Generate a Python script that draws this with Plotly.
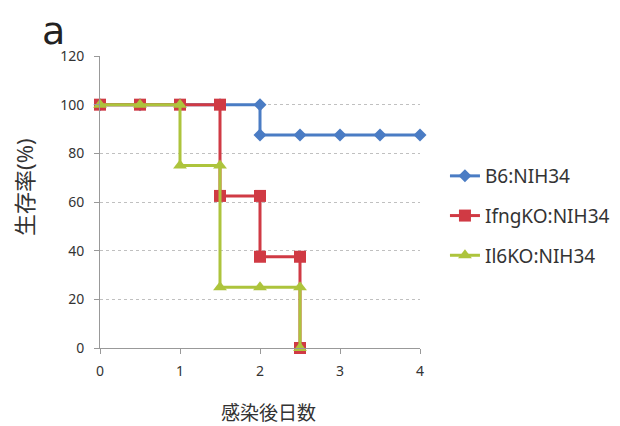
import plotly.graph_objects as go

names = ["B6:NIH34", "IfngKO:NIH34", "Il6KO:NIH34"]
b6_x = [0, 0.5, 1, 1.5, 2, 2, 2.5, 3, 3.5, 4]
b6_y = [100, 100, 100, 100, 100, 87.5, 87.5, 87.5, 87.5, 87.5]
ifng_x = [0, 0.5, 1, 1.5, 1.5, 2, 2, 2.5, 2.5]
ifng_y = [100, 100, 100, 100, 62.5, 62.5, 37.5, 37.5, 0]
il6_x = [0, 0.5, 1, 1, 1.5, 1.5, 2, 2.5, 2.5]
il6_y = [100, 100, 100, 75, 75, 25, 25, 25, 0]
y_ticks = [0, 20, 40, 60, 80, 100, 120]
x_ticks = [0, 1, 2, 3, 4]

colors = ["#4a7cc4", "#d03a44", "#adc43c"]
symbols = ["diamond", "square", "triangle-up"]
sizes = [10, 12, 12]
series = [(b6_x, b6_y), (ifng_x, ifng_y), (il6_x, il6_y)]

FONT = "Noto Sans, Noto Sans CJK JP, sans-serif"
fig = go.Figure()
for i, (xs, ys) in enumerate(series):
    fig.add_trace(go.Scatter(
        x=xs, y=ys, name=names[i], mode="lines+markers",
        line=dict(color=colors[i], width=3),
        marker=dict(symbol=symbols[i], size=sizes[i], color=colors[i]),
        cliponaxis=False, legendgroup=names[i],
    ))

fig.update_layout(
    width=620, height=426,
    margin=dict(l=92, r=208, t=48, b=86, autoexpand=False),
    paper_bgcolor="white", plot_bgcolor="white",
    font=dict(family=FONT, color="#333333"),
    showlegend=True,
    legend=dict(x=1.078, y=0.452, xanchor="left", yanchor="middle",
                font=dict(size=19, color="#333333"),
                tracegroupgap=12, traceorder="grouped",
                itemwidth=30),
    xaxis=dict(range=[0, 4], tickvals=x_ticks, showgrid=False,
               showline=True, linecolor="#999999", linewidth=1,
               ticks="outside", ticklen=5, tickcolor="#999999",
               ticklabelstandoff=5,
               tickfont=dict(size=14, color="#333333"), zeroline=False),
    yaxis=dict(range=[0, 120], tickvals=y_ticks, showgrid=True,
               gridcolor="#c0c0c0", gridwidth=1, griddash="dot",
               showline=True, linecolor="#999999", linewidth=1,
               ticks="outside", ticklen=5, tickcolor="#999999",
               ticklabelstandoff=7,
               tickfont=dict(size=14, color="#333333"), zeroline=False),
    annotations=[
        dict(text="a", x=-0.185, y=1.006, xref="paper", yref="paper",
             xanchor="left", yanchor="bottom", showarrow=False, borderpad=0,
             font=dict(size=38, color="#222222", family="DejaVu Sans")),
        dict(text="生存率(%)", x=-0.238, y=0.551, xref="paper", yref="paper",
             xanchor="center", yanchor="middle", textangle=-90, showarrow=False,
             font=dict(size=22, color="#333333", family=FONT)),
        dict(text="感染後日数", x=0.525, y=-0.2226, xref="paper", yref="paper",
             xanchor="center", yanchor="middle", showarrow=False,
             font=dict(size=19, color="#333333", family=FONT)),
    ],
)
fig.write_html("out.html")
